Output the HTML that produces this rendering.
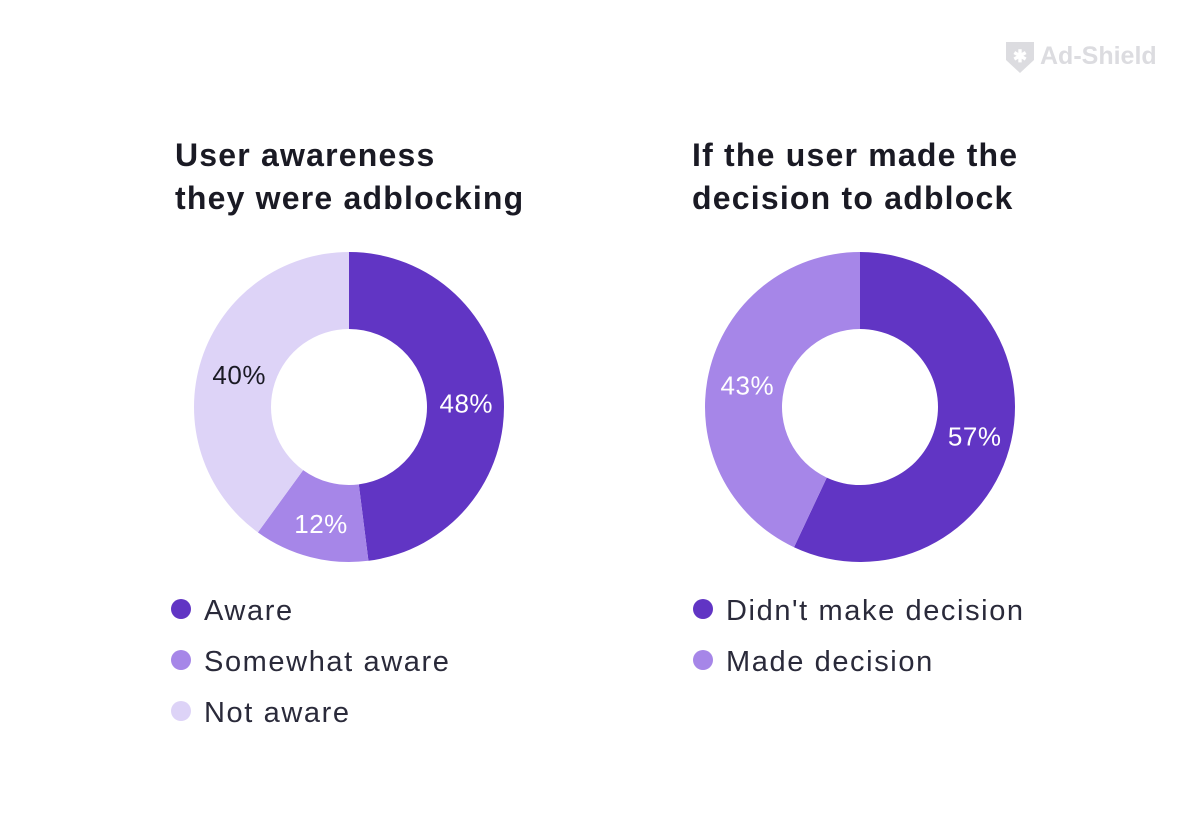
<!DOCTYPE html>
<html><head><meta charset="utf-8"><style>
body{margin:0;background:#fff;font-family:"Liberation Sans",sans-serif;}
svg{display:block}
</style></head><body>
<svg width="1200" height="840" id="svg">
<g>
<path d="M1006 42 h28 v18 l-14 13 l-14 -13 z" fill="#dcdce0"/>
<text x="1020" y="62" font-size="17" fill="#fff" text-anchor="middle" font-weight="bold">✱</text>
<text x="1040" y="64" font-size="25" font-weight="bold" fill="#dcdce0">Ad-Shield</text>
</g>
<g font-size="32" font-weight="bold" fill="#1a1a24" letter-spacing="1.2">
<text x="175" y="166">User awareness</text>
<text x="175" y="209">they were adblocking</text>
<text x="692" y="166">If the user made the</text>
<text x="692" y="209">decision to adblock</text>
</g>
<g id="c1"></g><g id="c2"></g>
</svg>
<script>
const labels1=["Aware","Somewhat aware","Not aware"];
const values1=[48,12,40];
const labels2=["Didn't make decision","Made decision"];
const values2=[57,43];
const colors=["#6135c4","#a686e8","#ddd3f7"];
const NS="http://www.w3.org/2000/svg";
function mk(t,a,p){const e=document.createElementNS(NS,t);for(const k in a)e.setAttribute(k,a[k]);p.appendChild(e);return e;}
function donut(g,cx,cy,labels,values,lx,pref){
 const tot=values.reduce((a,b)=>a+b,0);const R=155,r=78;let a0=0;
 values.forEach((v,i)=>{
  const a1=a0+v/tot*2*Math.PI;
  const p=(a,rad)=>[cx+rad*Math.sin(a),cy-rad*Math.cos(a)];
  const lg=(a1-a0)>Math.PI?1:0;
  const [x0,y0]=p(a0,R),[x1,y1]=p(a1,R),[x2,y2]=p(a1,r),[x3,y3]=p(a0,r);
  const path=mk("path",{d:`M${x0} ${y0}A${R} ${R} 0 ${lg} 1 ${x1} ${y1}L${x2} ${y2}A${r} ${r} 0 ${lg} 0 ${x3} ${y3}Z`,fill:colors[i]},g);
  
  
  const am=(a0+a1)/2;const [tx,ty]=p(am,(R+r)/2);
  const t=mk("text",{x:tx+1,y:ty+13,"font-size":26,"letter-spacing":0.5,"text-anchor":"middle",fill:i==2?"#1a1a24":"#fff"},g);
  t.textContent=v+"%";
  
  
  const c=mk("circle",{cx:lx,cy:609+i*51,r:10,fill:colors[i]},g);
  
  
  const lt=mk("text",{x:lx+23,y:620+i*51,"font-size":29,"letter-spacing":1.6,fill:"#2a2a3a"},g);
  lt.textContent=labels[i];
  
  
  a0=a1;
 });
}
donut(document.getElementById("c1"),349,407,labels1,values1,181,"chart1");
donut(document.getElementById("c2"),860,407,labels2,values2,703,"chart2");
</script>
</body></html>
